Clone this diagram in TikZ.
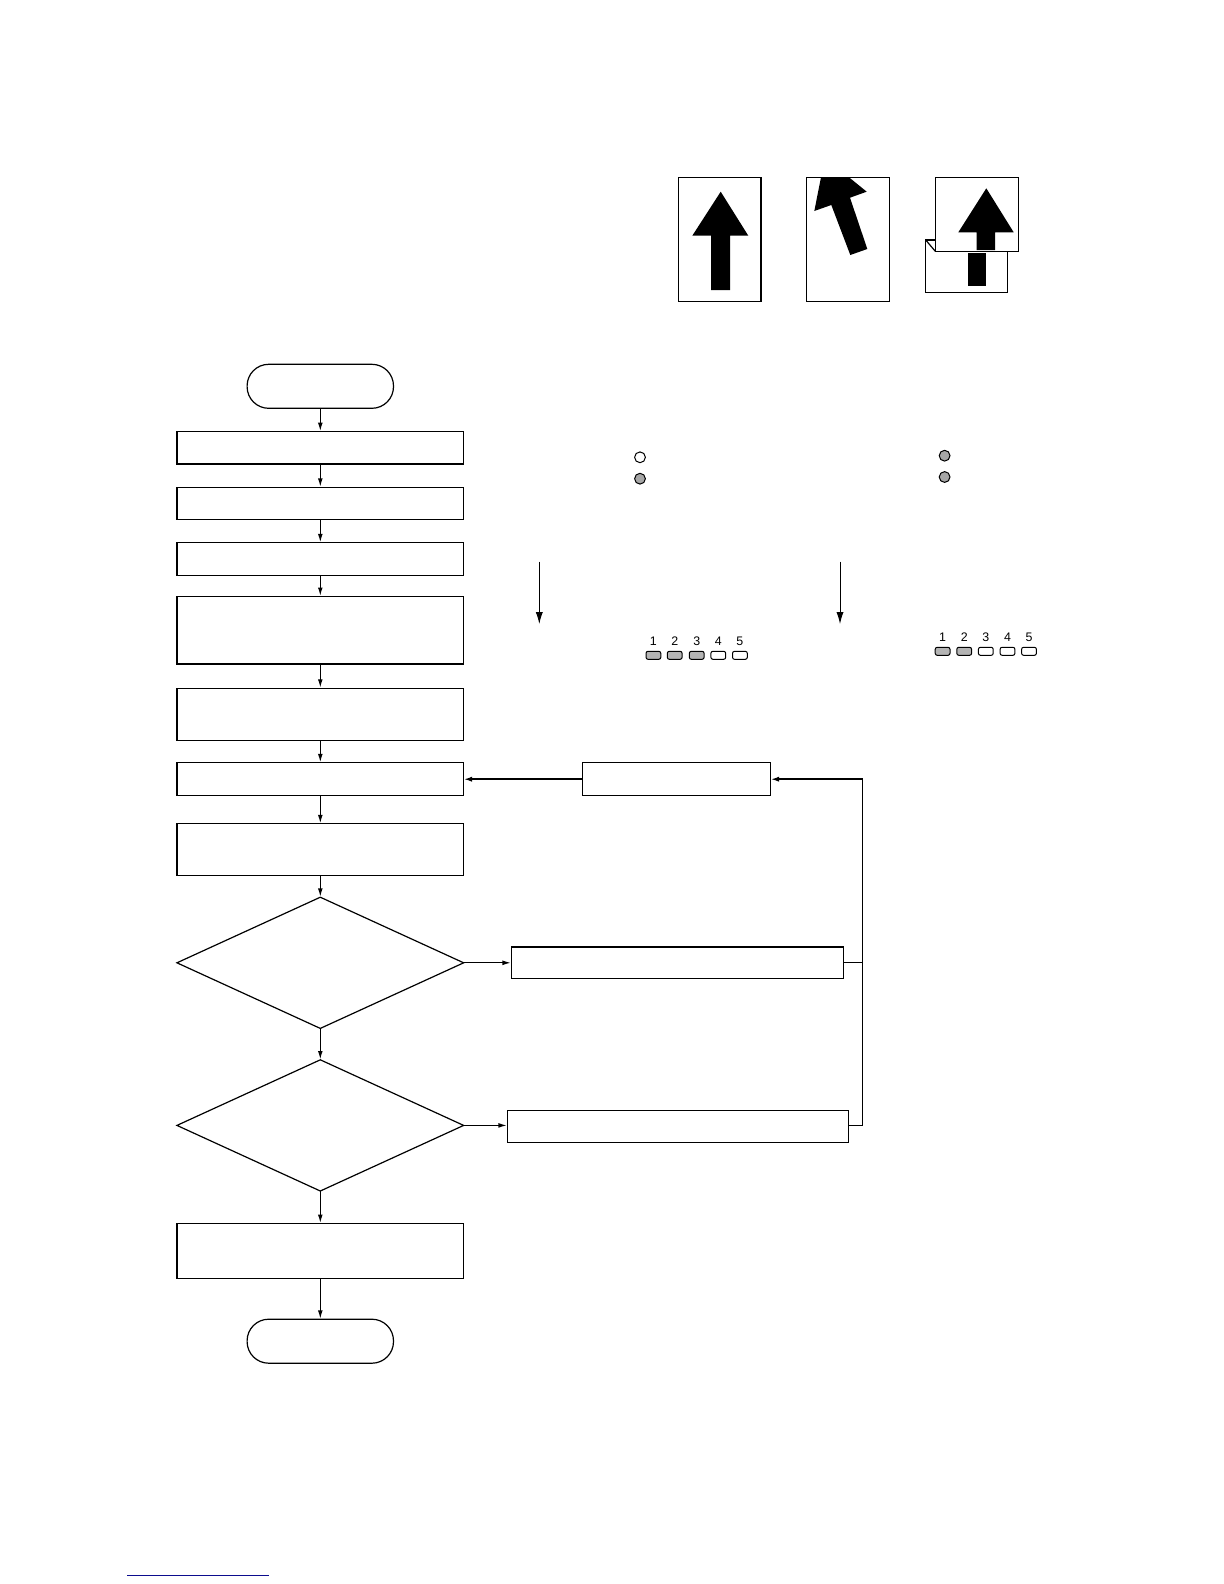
\documentclass[tikz,border=0pt]{standalone}
\usepackage{fontspec}
\setmainfont{Liberation Sans}
\usetikzlibrary{arrows.meta,positioning,shapes.geometric}
\definecolor{ledgray}{HTML}{B4B4B4}
\definecolor{dotgray}{HTML}{A6A6A6}
\definecolor{linkblue}{HTML}{0C0C8E}

\begin{document}
\begin{tikzpicture}[
 x=.5pt,y=-.5pt,line width=.6pt,
 every node/.style={outer sep=0pt,inner sep=0pt},
 box/.style={draw,fill=white,minimum width=143.35pt},
 term/.style={draw,fill=white,rounded corners=10.8pt,minimum width=73.2pt,minimum height=22pt},
 dec/.style={draw,diamond,minimum width=143.35pt,minimum height=65.6pt},
 sheet/.style={draw,fill=white},
 arr/.style={-{Latex[length=4.2pt,width=2.4pt]},shorten >=.2pt},
 boldarr/.style={-{Latex[length=4.2pt,width=2.6pt]},line width=1pt},
 longarr/.style={-{Latex[length=6pt,width=3.6pt]},line width=.5pt},
 dot/.style={circle,draw,minimum size=5.4pt,line width=.5pt},
 led/.style={draw,rounded corners=1pt,minimum width=7.4pt,minimum height=4pt,line width=.5pt},
 num/.style={font=\fontsize{6.2}{7}\selectfont}]
\useasboundingbox (0,0) rectangle (1224,1584);

% flow column
\node[term] (start) at (320.3,386.3) {};
\node[box,minimum height=16.2pt,below=11.6pt of start] (b1) {};
\node[box,minimum height=16.1pt,below=11.65pt of b1] (b2) {};
\node[box,minimum height=16.2pt,below=11.65pt of b2] (b3) {};
\node[box,minimum height=33.8pt,below=10.6pt of b3] (b4) {};
\node[box,minimum height=26.3pt,below=12.1pt of b4] (b5) {};
\node[box,minimum height=16.5pt,below=11pt of b5] (b6) {};
\node[box,minimum height=26pt,below=14pt of b6] (b7) {};
\node[dec,below=10.75pt of b7] (d1) {};
\node[dec,below=15.7pt of d1] (d2) {};
\node[box,minimum height=27.7pt,below=16.2pt of d2] (b8) {};
\node[term,below=20.2pt of b8] (stop) {};

% right hand boxes
\node[draw,fill=white,minimum width=94.2pt,minimum height=16.5pt,right=59.3pt of b6] (fb) {};
\node[draw,fill=white,minimum width=166.2pt,minimum height=16pt,right=23.8pt of d1] (wa) {};
\node[draw,fill=white,minimum width=170.7pt,minimum height=16pt,right=21.8pt of d2,yshift=-.5pt] (wb) {};
\draw[line width=1pt] (wa.north west)--(wa.north east);
\coordinate (bustop) at (862.7,0 |- fb);

\draw[arr] (start)--(b1);\draw[arr] (b1)--(b2);\draw[arr] (b2)--(b3);
\draw[arr] (b3)--(b4);\draw[arr] (b4)--(b5);\draw[arr] (b5)--(b6);
\draw[arr] (b6)--(b7);\draw[arr] (b7)--(d1);\draw[arr] (d1)--(d2);
\draw[arr] (d2)--(b8);\draw[arr] (b8)--(stop);
\draw[arr] (d1.east)--(wa.west);\draw[arr] (d2.east)--(d2.east -| wb.west);
\draw (wa.east)-|(bustop);\draw (wb.east |- d2.east)-|(bustop);
\draw[boldarr] (bustop)--(fb);
\draw[boldarr] (fb)--(b6);

% sheets
\draw[sheet] (678.3,177.3) rectangle (761,301.3);
\fill[black] (720.7,191.7)--(748.3,235.7)--(730,235.7)--(730,290)--(711,290)--(711,235.7)--(692.3,235.7)--cycle;
\draw[sheet] (806.7,177.3) rectangle (889.7,301.3);
\fill[black] (821,177.3)--(849,177.3)--(866.7,191.7)--(850,197.7)--(867.3,249)--(850.3,255)--(831.3,205)--(814.3,211)--cycle;
\draw[sheet] (925.7,240) rectangle (1007.7,292.7);
\fill[black] (967.7,253) rectangle (986.3,285.7);
\draw (925.7,240)--(935.3,251.3);
\draw[sheet] (935.3,177.3) rectangle (1018.7,251.3);
\fill[black] (986.3,188.3)--(1013.7,232.3)--(995,232.3)--(995,250)--(976.7,250)--(976.7,232.3)--(958.3,232.3)--cycle;

% indicators
\node[dot] (dot1) at (640,457.3) {};
\node[dot,fill=dotgray] (dot2) at (640,478.7) {};
\node[dot,fill=dotgray] (dot3) at (944.6,455.7) {};
\node[dot,fill=dotgray] (dot4) at (944.6,477) {};
\coordinate (ta) at (539.3,561.7);\coordinate (tb) at (539.3,624);
\coordinate (tc) at (840,561.7);\coordinate (td) at (840,624);
\draw[longarr] (ta)--(tb);
\draw[longarr] (tc)--(td);

\foreach \n/\x/\c in {1/653.4/ledgray,2/674.7/ledgray,3/696.7/ledgray,4/718.3/white,5/739.9/white}{
 \node[led,fill=\c] (l\n) at (\x,655.3) {};
 \node[num] at (\x,641.5) {\n};
}
\foreach \n/\x/\c in {1/942.6/ledgray,2/964.2/ledgray,3/985.8/white,4/1007.5/white,5/1029/white}{
 \node[led,fill=\c] (r\n) at (\x,651.3) {};
 \node[num] at (\x,637.3) {\n};
}

% link rule at the foot
\coordinate (ua) at (127,1575.3);\coordinate (ub) at (269,1575.3);
\draw[linkblue] (ua)--(ub);
\end{tikzpicture}
\end{document}
